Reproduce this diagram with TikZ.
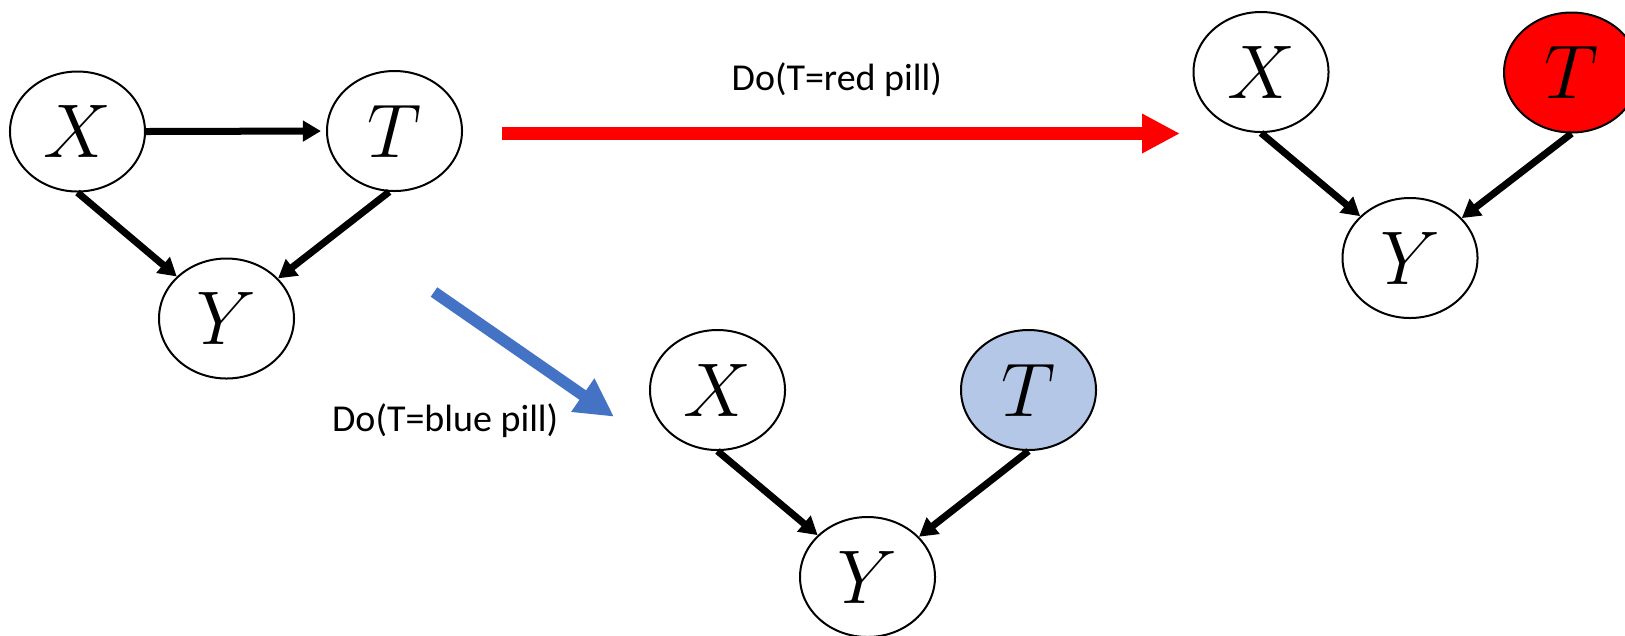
\documentclass[tikz,border=0pt]{standalone}
\usepackage{fontspec}
\newfontfamily\labelfont{Carlito}
\usetikzlibrary{arrows.meta,shapes.geometric}
\definecolor{redpill}{HTML}{FF0000}
\definecolor{bluepill}{HTML}{4472C4}
\definecolor{lightblue}{HTML}{B4C7E7}
\begin{document}
\begin{tikzpicture}[x=0.327pt,y=-0.327pt,
  var/.style={ellipse, draw, line width=0.654pt, minimum width=44.15pt, minimum height=39.24pt, inner sep=0pt, font=\fontsize{24.88}{30}\selectfont},
  edge/.style={line width=2.29pt, -{Triangle[length=5.9pt,width=6.54pt]}},
  lbl/.style={anchor=base west, inner sep=0pt, font=\labelfont\fontsize{12.43}{15}\selectfont}
]
\useasboundingbox (0,0) rectangle (1625,635);
% original graph
\node[var] (aX) at (77.5,131.5) {$X$};
\node[var] (aT) at (394.5,131) {$T$};
\node[var] (aY) at (226.5,318.5) {$Y$};
\draw[edge, shorten >=1.64pt] (aX.east) -- (aT.west);
\draw[edge] (aX.south) -- (aY);
\draw[edge] (aT.265) -- (aY);
% red intervention
\node[var, fill=redpill] (bT) at (1571.5,72.5) {$T$};
\node[var] (bX) at (1261,72) {$X$};
\node[var] (bY) at (1410,258) {$Y$};
\draw[edge] (bX.south) -- (bY);
\draw[edge] (bT.south) -- (bY);
% blue intervention
\node[var] (cX) at (717.5,390) {$X$};
\node[var, fill=lightblue] (cT) at (1028.5,390) {$T$};
\node[var] (cY) at (867.5,577) {$Y$};
\draw[edge] (cX.south) -- (cY);
\draw[edge] (cT.south) -- (cY);
% intervention arrows
\coordinate (rs) at (502,133.5);
\coordinate (re) at (1180,133.5);
\draw[redpill, line width=4.251pt, -{Triangle[length=12.426pt,width=12.099pt]}] (rs) -- (re);
\coordinate (bs) at (434,292);
\coordinate (be) at (614,416.7);
\draw[bluepill, line width=3.76pt, -{Triangle[length=12.426pt,width=12.426pt]}] (bs) -- (be);
\node[lbl] (rl) at (731,90) {Do(T=red pill)};
\node[lbl] (bl) at (331.5,431.5) {Do(T=blue pill)};
\end{tikzpicture}
\end{document}
